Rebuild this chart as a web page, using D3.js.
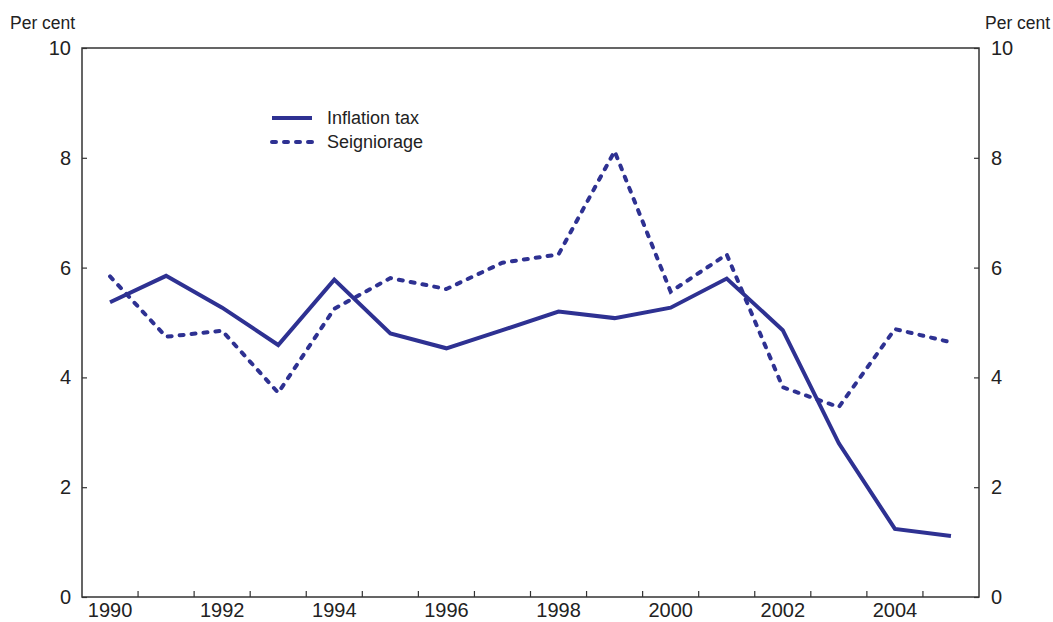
<!DOCTYPE html>
<html>
<head>
<meta charset="utf-8">
<script src="https://cdn.jsdelivr.net/npm/d3@7"></script>
<style>
  body { margin: 0; background: #fff; }
  text { font-family: "Liberation Sans", Arial, sans-serif; fill: #222; }
</style>
</head>
<body>
<svg id="chart"></svg>
<script>
const years = [1990, 1991, 1992, 1993, 1994, 1995, 1996, 1997, 1998, 1999, 2000, 2001, 2002, 2003, 2004, 2005];
const inflationTax = [5.37, 5.85, 5.27, 4.59, 5.78, 4.80, 4.53, 4.86, 5.20, 5.08, 5.27, 5.80, 4.86, 2.80, 1.24, 1.11];
const seigniorage = [5.84, 4.74, 4.85, 3.72, 5.25, 5.81, 5.61, 6.09, 6.24, 8.12, 5.56, 6.24, 3.82, 3.46, 4.88, 4.64];
const yTicks = [0, 2, 4, 6, 8, 10];
const xLabels = [1990, 1992, 1994, 1996, 1998, 2000, 2002, 2004];
const seriesNames = ["Inflation tax", "Seigniorage"];

const width = 1053;
const height = 622;
const margin = { top: 48, right: 74, bottom: 25, left: 82 };
const lineColor = "#2e3192";
const axisColor = "#333";

const svg = d3.select("#chart").attr("width", width).attr("height", height);

const x = d3.scaleBand()
  .domain(years)
  .range([margin.left, width - margin.right])
  .padding(0);

const y = d3.scaleLinear()
  .domain([0, 10])
  .range([height - margin.bottom, margin.top]);

const cx = (d) => x(d) + x.bandwidth() / 2;

// frame
svg.append("rect")
  .attr("x", margin.left)
  .attr("y", margin.top)
  .attr("width", width - margin.right - margin.left)
  .attr("height", height - margin.bottom - margin.top)
  .attr("fill", "none")
  .attr("stroke", axisColor)
  .attr("stroke-width", 1.5);

// y axes
const yLeft = svg.append("g")
  .attr("transform", `translate(${margin.left},0)`)
  .call(d3.axisLeft(y).tickValues(yTicks).tickSize(-5).tickPadding(11));
const yRight = svg.append("g")
  .attr("transform", `translate(${width - margin.right},0)`)
  .call(d3.axisRight(y).tickValues(yTicks).tickSize(-5).tickPadding(12));

// x axis: labels at band centres, tick marks at band boundaries
const xAxis = svg.append("g")
  .attr("transform", `translate(0,${height - margin.bottom})`)
  .call(d3.axisBottom(x).tickValues(xLabels).tickSize(0).tickPadding(6));

svg.append("g")
  .selectAll("line")
  .data(years.slice(0, -1))
  .enter()
  .append("line")
  .attr("x1", (d) => x(d) + x.bandwidth())
  .attr("x2", (d) => x(d) + x.bandwidth())
  .attr("y1", height - margin.bottom)
  .attr("y2", height - margin.bottom - 6)
  .attr("stroke", axisColor)
  .attr("stroke-width", 1.2);

[yLeft, yRight, xAxis].forEach((g) => {
  g.select(".domain").remove();
  g.selectAll("line").attr("stroke", axisColor).attr("stroke-width", 1.2);
  g.selectAll("text").style("font-size", "20px").attr("fill", "#222");
});

// unit labels
svg.append("text").attr("x", 10).attr("y", 29).text("Per cent").style("font-size", "17.5px");
svg.append("text").attr("x", 985).attr("y", 29).text("Per cent").style("font-size", "17.5px");

// lines
const line = d3.line()
  .x((d, i) => cx(years[i]))
  .y((d) => y(d));

svg.append("path")
  .datum(seigniorage)
  .attr("fill", "none")
  .attr("stroke", lineColor)
  .attr("stroke-width", 4)
  .attr("stroke-linecap", "round")
  .attr("stroke-dasharray", "4 8")
  .attr("d", line);

svg.append("path")
  .datum(inflationTax)
  .attr("fill", "none")
  .attr("stroke", lineColor)
  .attr("stroke-width", 4)
  .attr("stroke-linejoin", "miter")
  .attr("d", line);

// legend
const legend = svg.append("g").attr("transform", "translate(272,118)");
seriesNames.forEach((name, i) => {
  const row = legend.append("g").attr("transform", `translate(0,${i * 24})`);
  row.append("line")
    .attr("x1", 0).attr("x2", 40)
    .attr("stroke", lineColor)
    .attr("stroke-width", 4)
    .attr("stroke-linecap", i === 0 ? "butt" : "round")
    .attr("stroke-dasharray", i === 0 ? null : "4 8");
  row.append("text")
    .attr("x", 55)
    .attr("dy", "0.35em")
    .text(name)
    .style("font-size", "18px");
});
</script>
</body>
</html>
